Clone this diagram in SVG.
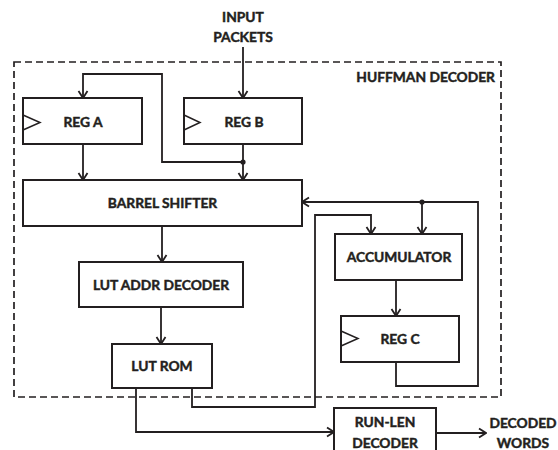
<svg xmlns="http://www.w3.org/2000/svg" width="558" height="450" viewBox="0 0 558 450">
<style>
.box{fill:#fff;stroke:#231f20;stroke-width:2}
.clk{fill:none;stroke:#231f20;stroke-width:1.5}
.t{font-family:Lato,"Liberation Sans",sans-serif;font-weight:bold;font-size:13.8px;fill:#231f20;stroke:#231f20;stroke-width:0.45;text-anchor:middle}
.w{fill:none;stroke:#231f20;stroke-width:1.8}
.dash{fill:none;stroke:#231f20;stroke-width:1.7;stroke-dasharray:7 4}
.dot{fill:#231f20}
</style>
<defs>
<marker id="ar" viewBox="0 0 12 12" refX="11" refY="6" markerWidth="12" markerHeight="12" markerUnits="userSpaceOnUse" orient="auto">
<path d="M4,1.5 L11,6 L4,10.5" fill="none" stroke="#231f20" stroke-width="1.8"/>
</marker>
</defs>
<rect id="huffman" class="dash" x="14" y="62" width="487" height="335"/>
<text class="t" x="495" y="82" style="text-anchor:end">HUFFMAN DECODER</text>
<g id="input-label"><text class="t" x="243" y="22">INPUT</text><text class="t" x="243" y="42">PACKETS</text></g>
<g id="connectors">
<path class="w" d="M243,47 V98" marker-end="url(#ar)"/>
<path class="w" d="M243,144 V180" marker-end="url(#ar)"/>
<path class="w" d="M243,162 H162 V74 H83 V98" marker-end="url(#ar)"/>
<circle class="dot" cx="243" cy="162" r="2.6"/>
<path class="w" d="M83,144 V180" marker-end="url(#ar)"/>
<path class="w" d="M162,226 V262" marker-end="url(#ar)"/>
<path class="w" d="M161,307 V344" marker-end="url(#ar)"/>
<path class="w" d="M192,388 V407 H315 V215 H371 V234" marker-end="url(#ar)"/>
<path class="w" d="M136,388 V432 H334" marker-end="url(#ar)"/>
<path class="w" d="M396,362 V386 H478 V202 H302" marker-end="url(#ar)"/>
<circle class="dot" cx="422" cy="202" r="2.6"/>
<path class="w" d="M422,202 V234" marker-end="url(#ar)"/>
<path class="w" d="M396,280 V316" marker-end="url(#ar)"/>
<path class="w" d="M436,433 H486" marker-end="url(#ar)"/>
</g>
<g id="reg-a"><rect class="box" x="23" y="98" width="119" height="46"/><path class="clk" d="M23,115 L40,122.5 L23,130"/><text class="t" x="83" y="127">REG A</text></g>
<g id="reg-b"><rect class="box" x="184" y="98" width="118" height="46"/><path class="clk" d="M184,115 L200,122.5 L184,130"/><text class="t" x="244" y="127">REG B</text></g>
<g id="barrel-shifter"><rect class="box" x="23" y="180" width="279" height="46"/><text class="t" x="162.5" y="208">BARREL SHIFTER</text></g>
<g id="lut-addr-decoder"><rect class="box" x="79" y="262" width="164" height="45"/><text class="t" x="161" y="289.5">LUT ADDR DECODER</text></g>
<g id="lut-rom"><rect class="box" x="112" y="344" width="100" height="44"/><text class="t" x="162" y="371">LUT ROM</text></g>
<g id="accumulator"><rect class="box" x="335" y="234" width="127" height="46"/><text class="t" x="399" y="262">ACCUMULATOR</text></g>
<g id="reg-c"><rect class="box" x="341" y="316" width="118" height="46"/><path class="clk" d="M341,331 L358,338.5 L341,346"/><text class="t" x="400" y="344">REG C</text></g>
<g id="run-len-decoder"><rect class="box" x="334" y="408" width="102" height="60"/><text class="t" x="385" y="427">RUN-LEN</text><text class="t" x="385" y="448">DECODER</text></g>
<g id="decoded-words"><text class="t" x="523" y="428">DECODED</text><text class="t" x="523" y="448">WORDS</text></g>
</svg>
